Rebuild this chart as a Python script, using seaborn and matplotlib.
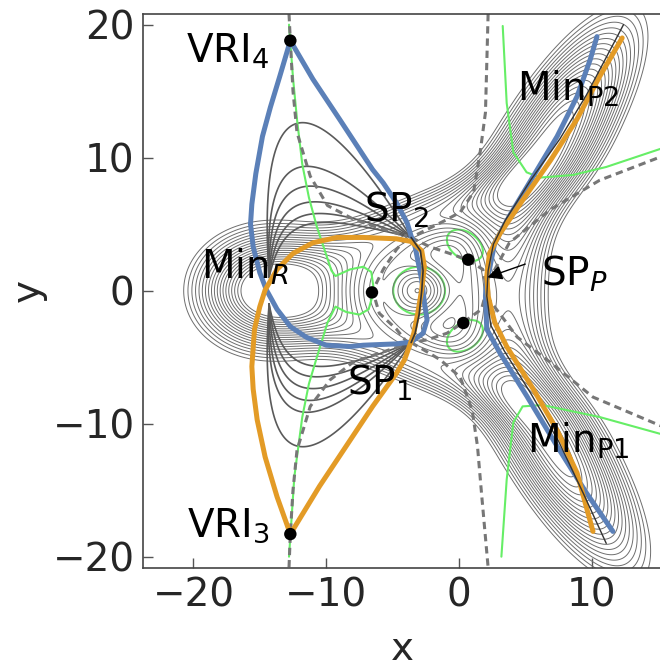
import numpy as np
import pandas as pd
import matplotlib
matplotlib.use("Agg")
import matplotlib.pyplot as plt
from matplotlib.patches import Ellipse
import seaborn as sns

# ---------------- data ----------------
# model potential: wells (centre x, centre y, depth, sigma along axis, sigma across, axis angle in deg)
well_x     = [-14.6, -3.0, 7.6, 7.8, -2.5, -2.5, -8.5, 4.2]
well_y     = [0.0, 0.0, 12.2, -12.7, 5.5, -5.5, 0.0, 0.0]
well_depth = [1.0, 0.45, 1.0, 1.0, 0.50, 0.50, 0.35, 0.45]
well_sl    = [3.7, 1.5, 6.6, 6.6, 6.0, 6.0, 4.0, 2.2]
well_ss    = [3.1, 1.5, 2.4, 2.4, 1.6, 1.6, 3.0, 5.5]
well_ang   = [0, 0, 58, -58, 22, -22, 0, 0]
contour_levels = [-0.98, -0.94, -0.90, -0.86, -0.82, -0.78, -0.74, -0.70, -0.66, -0.62,
                  -0.58, -0.54, -0.50, -0.46, -0.42, -0.38, -0.34, -0.30, -0.26]

# dark contour arcs between Min_R and the saddles (peak heights, left-leg offsets)
arc_up_peaks  = [12.6, 9.3, 7.8, 6.6, 5.7, 5.0]
arc_low_peaks = [-11.7, -9.1, -8.2, -7.3, -6.4, -5.6]
arc_leg_x     = [-15.3, -14.8, -14.4, -14.0, -13.6, -13.2]

# blue loop (VRI4 -> Min_R -> SP1 -> SP2 -> VRI4)
blue_loop_x = [-12.7, -13.5, -14.2, -14.8, -15.3, -15.6, -15.7, -15.5, -15.0, -14.5, -13.7, -12.7,
               -11.5, -10.0, -8.2, -7.2, -4.7, -3.6, -2.7, -2.4, -2.6, -2.8, -3.1, -3.3, -3.6,
               -3.9, -4.7, -5.7, -6.5, -9.0, -11.0, -12.7]
blue_loop_y = [18.8, 16.1, 13.8, 11.6, 8.8, 6.5, 5.0, 3.3, 1.35, 0.05, -1.4, -2.7,
               -3.5, -4.1, -4.2, -4.1, -4.0, -3.86, -3.2, -2.2, -0.9, 0.8, 2.3, 3.3, 4.1,
               5.1, 6.6, 8.1, 9.1, 12.9, 15.9, 18.8]
# orange loop (VRI3 -> Min_R -> SP2 -> SP1 -> VRI3)
orange_loop_x = [-12.7, -13.7, -14.6, -15.2, -15.5, -15.6, -15.4, -15.0, -14.6, -13.7, -12.5, -11.0,
                 -9.2, -7.2, -4.7, -3.6, -2.8, -2.6, -2.8, -3.1, -3.4, -3.7, -4.1, -4.7, -6.5,
                 -8.5, -10.5, -12.7]
orange_loop_y = [-18.3, -15.5, -12.5, -9.7, -7.4, -5.7, -2.9, -1.2, 0.05, 1.6, 2.8, 3.6,
                 4.0, 4.0, 3.9, 3.7, 3.0, 1.8, 0.1, -1.7, -3.2, -4.1, -5.2, -6.2, -8.7,
                 -11.7, -14.7, -18.3]
# product paths through SP_P
blue_prod_x = [11.6, 9.6, 7.4, 5.1, 3.1, 2.1, 2.0, 2.1, 2.3, 2.7, 3.8, 5.6, 7.4, 8.9, 9.9, 10.4]
blue_prod_y = [-18.1, -15.2, -11.7, -7.9, -4.7, -2.9, -0.4, 0.8, 1.6, 3.6, 5.6, 8.6, 11.6, 14.6, 17.4, 19.1]
orange_prod_x = [10.1, 8.9, 7.4, 5.6, 3.6, 2.7, 2.2, 2.1, 2.3, 3.1, 4.8, 6.9, 8.9, 10.6, 12.3]
orange_prod_y = [-18.1, -13.7, -10.5, -7.4, -4.2, -2.4, -0.4, 1.1, 2.8, 4.3, 6.8, 9.8, 12.9, 16.1, 19.0]
black_prod_x = [11.1, 9.4, 7.5, 5.4, 3.4, 2.4, 2.1, 2.2, 2.6, 3.5, 5.4, 7.6, 9.6, 12.4]
black_prod_y = [-19.0, -15.3, -11.3, -7.7, -4.5, -2.6, -0.4, 1.5, 3.5, 5.3, 8.3, 11.4, 14.7, 20.0]
black_mid_x = [-3.6, -2.9, -2.7, -2.8, -3.0, -3.3, -3.6]
black_mid_y = [4.0, 3.0, 1.5, 0.0, -1.8, -3.2, -3.9]

# dashed lines
dashed_lines = {
    "up_left":  ([-12.8, -12.7, -12.5, -12.2, -11.2, -9.9, -8.0, -6.0, -3.9],
                 [20.8, 18.8, 15.0, 11.9, 8.6, 6.4, 5.4, 4.7, 4.1]),
    "low_left": ([-12.8, -12.7, -12.5, -12.2, -11.2, -9.7, -8.0, -6.0, -3.9],
                 [-20.8, -18.3, -15.0, -12.0, -8.7, -6.7, -5.4, -4.7, -4.0]),
    "ring":     ([-3.9, -4.7, -5.7, -6.5, -6.0, -4.7, -3.9],
                 [4.0, 3.1, 1.6, 0.0, -1.7, -2.9, -3.9]),
    "up_mid":   ([2.2, 2.0, 1.6, 1.1, 0.1, -1.0, -2.4, -3.6],
                 [20.8, 13.4, 10.4, 7.4, 5.9, 5.3, 4.6, 4.0]),
    "low_mid":  ([-3.6, -2.4, -1.4, 0.1, 1.0, 1.4, 1.7, 2.2],
                 [-3.9, -4.6, -5.2, -6.5, -9.0, -11.7, -15.2, -20.8]),
    "inner":    ([-3.6, -2.2, -0.7, 0.7, 1.8, 2.1, 1.7, 0.3, -0.9, -2.4, -3.6],
                 [4.0, 3.3, 2.8, 2.3, 1.6, 0.1, -1.4, -2.4, -3.2, -3.7, -3.9]),
    "up_right": ([2.1, 2.6, 3.8, 6.9, 10.6, 15.3],
                 [0.8, 1.4, 3.6, 6.1, 8.3, 10.1]),
    "low_right": ([2.1, 2.3, 4.4, 6.9, 10.1, 15.3],
                  [-0.4, -0.7, -3.5, -5.4, -8.0, -10.2]),
}

# green lines
green_lines = {
    "left": ([-12.8, -12.5, -12.2, -11.8, -11.3, -10.7, -9.6, -9.3, -8.2, -7.2, -6.6, -6.4, -6.8,
              -7.5, -8.5, -9.3, -9.9, -10.7, -11.3, -11.8, -12.4, -12.8],
             [20.0, 16.0, 12.9, 9.5, 7.0, 4.8, 1.5, 1.1, 1.6, 1.8, 1.4, 0.0, -1.4,
              -1.8, -1.6, -1.2, -2.4, -5.0, -7.0, -9.5, -14.0, -20.0]),
    "up_right": ([3.3, 3.6, 4.1, 5.1, 6.1, 8.6, 11.1, 15.3],
                 [19.9, 14.1, 10.4, 8.9, 8.5, 8.7, 9.3, 10.7]),
    "low_right": ([3.2, 3.6, 4.1, 4.8, 6.3, 10.6, 15.3],
                  [-20.0, -14.2, -9.9, -8.7, -8.6, -9.5, -10.8]),
}
# green closed curves: centre x, centre y, width, height, angle
green_ell_x = [-3.0, 0.45, 0.45]
green_ell_y = [0.0, 3.4, -3.4]
green_ell_w = [3.9, 3.0, 3.0]
green_ell_h = [3.6, 2.0, 2.0]
green_ell_a = [0, -35, 35]

# stationary points (black dots)
dot_x = [-12.7, -12.7, -6.55, 0.7, 0.33]
dot_y = [18.8, -18.3, -0.13, 2.33, -2.43]

# labels
label_text = [r"VRI$_4$", r"VRI$_3$", r"SP$_2$", r"Min$_R$", r"SP$_1$",
              r"Min$_{\rm P2}$", r"SP$_P$", r"Min$_{\rm P1}$"]
label_x = [-17.4, -17.4, -4.7, -16.1, -6.0, 8.2, 8.7, 9.0]
label_y = [18.0, -17.7, 6.1, 1.8, -6.9, 15.2, 1.3, -11.3]
arrow_tail = (5.0, 2.0)
arrow_head = (2.15, 1.0)

# ---------------- styling ----------------
BLUE = "#5b80b8"
ORANGE = "#e39b26"
GREEN = "#66ee66"

sns.set_theme(style="ticks")
plt.rcParams["font.family"] = ["DejaVu Sans"]
plt.rcParams["mathtext.fontset"] = "dejavusans"

fig = plt.figure(figsize=(6.6, 6.71), dpi=100)
ax = fig.add_axes([143 / 660, (671 - 568) / 671, (662 - 143) / 660, (568 - 14) / 671])

# potential field
gx = np.linspace(-24, 16, 500)
gy = np.linspace(-21, 21, 520)
X, Y = np.meshgrid(gx, gy)
V = np.zeros_like(X)
for cx, cy, d, sl, ss, a in zip(well_x, well_y, well_depth, well_sl, well_ss, well_ang):
    t = np.deg2rad(a)
    u = (X - cx) * np.cos(t) + (Y - cy) * np.sin(t)
    v = -(X - cx) * np.sin(t) + (Y - cy) * np.cos(t)
    V -= d * np.exp(-0.5 * ((u / sl) ** 2 + (v / ss) ** 2))
ax.contour(X, Y, V, levels=sorted(contour_levels), colors="#6e6e6e", linewidths=0.7,
           linestyles="solid")

# dark arcs as cubic Bezier curves
tt = np.linspace(0, 1, 120)
def bez(p0, p1, p2, p3):
    b = [(1 - tt) ** 3, 3 * (1 - tt) ** 2 * tt, 3 * (1 - tt) * tt ** 2, tt ** 3]
    xs = b[0] * p0[0] + b[1] * p1[0] + b[2] * p2[0] + b[3] * p3[0]
    ys = b[0] * p0[1] + b[1] * p1[1] + b[2] * p2[1] + b[3] * p3[1]
    return xs, ys
for h, lx in zip(arc_up_peaks, arc_leg_x):
    c = (h - 0.125 * (1.0 + 4.0)) / 0.75
    xs, ys = bez((-14.3, 1.0), (lx, c), (-11.0, c), (-3.6, 4.0))
    ax.plot(xs, ys, color="#5a5a5a", lw=1.2)
for h, lx in zip(arc_low_peaks, arc_leg_x):
    c = (h - 0.125 * (-1.0 - 3.9)) / 0.75
    xs, ys = bez((-14.3, -1.0), (lx, c), (-11.0, c), (-3.6, -3.9))
    ax.plot(xs, ys, color="#5a5a5a", lw=1.2)

# green lines
for k, (xs, ys) in green_lines.items():
    sns.lineplot(x=xs, y=ys, sort=False, estimator=None, color=GREEN, lw=1.5, ax=ax)
for cx, cy, w, h, a in zip(green_ell_x, green_ell_y, green_ell_w, green_ell_h, green_ell_a):
    ax.add_patch(Ellipse((cx, cy), w, h, angle=a, fill=False, ec=GREEN, lw=1.5))

# dashed lines
for k, (xs, ys) in dashed_lines.items():
    ax.plot(xs, ys, color="#777777", lw=2.2, ls=(0, (2.4, 1.6)))

# paths
sns.lineplot(x=blue_loop_x, y=blue_loop_y, sort=False, estimator=None, color=BLUE, lw=3.6, ax=ax)
sns.lineplot(x=orange_loop_x, y=orange_loop_y, sort=False, estimator=None, color=ORANGE, lw=3.6, ax=ax)
sns.lineplot(x=blue_prod_x, y=blue_prod_y, sort=False, estimator=None, color=BLUE, lw=3.6, ax=ax)
sns.lineplot(x=orange_prod_x, y=orange_prod_y, sort=False, estimator=None, color=ORANGE, lw=3.6, ax=ax)
sns.lineplot(x=black_prod_x, y=black_prod_y, sort=False, estimator=None, color="#333333", lw=1.0, ax=ax)
sns.lineplot(x=black_mid_x, y=black_mid_y, sort=False, estimator=None, color="#333333", lw=1.2, ax=ax)

# dots
sns.scatterplot(x=dot_x, y=dot_y, color="black", s=80, edgecolor="none", zorder=5, ax=ax)

# labels
for s, x, y in zip(label_text, label_x, label_y):
    ax.text(x, y, s, fontsize=28, ha="center", va="center", color="black", zorder=6)
ax.annotate("", xy=arrow_head, xytext=arrow_tail,
            arrowprops=dict(arrowstyle="-|>", color="black", lw=1.0, mutation_scale=22,
                            shrinkA=0, shrinkB=0), zorder=6)

ax.set_xlim(-23.8, 15.3)
ax.set_ylim(-20.85, 20.8)
ax.set_xticks([-20, -10, 0, 10])
ax.set_yticks([-20, -10, 0, 10, 20])
ax.tick_params(direction="in", length=7, width=1, labelsize=28, pad=6, color="#555555")
for sp in ax.spines.values():
    sp.set_color("#444444")
    sp.set_linewidth(1.2)
ax.set_xlabel("x", fontsize=28, labelpad=11)
ax.set_ylabel("y", fontsize=28, labelpad=4)

fig.savefig("out.png", dpi=100)
